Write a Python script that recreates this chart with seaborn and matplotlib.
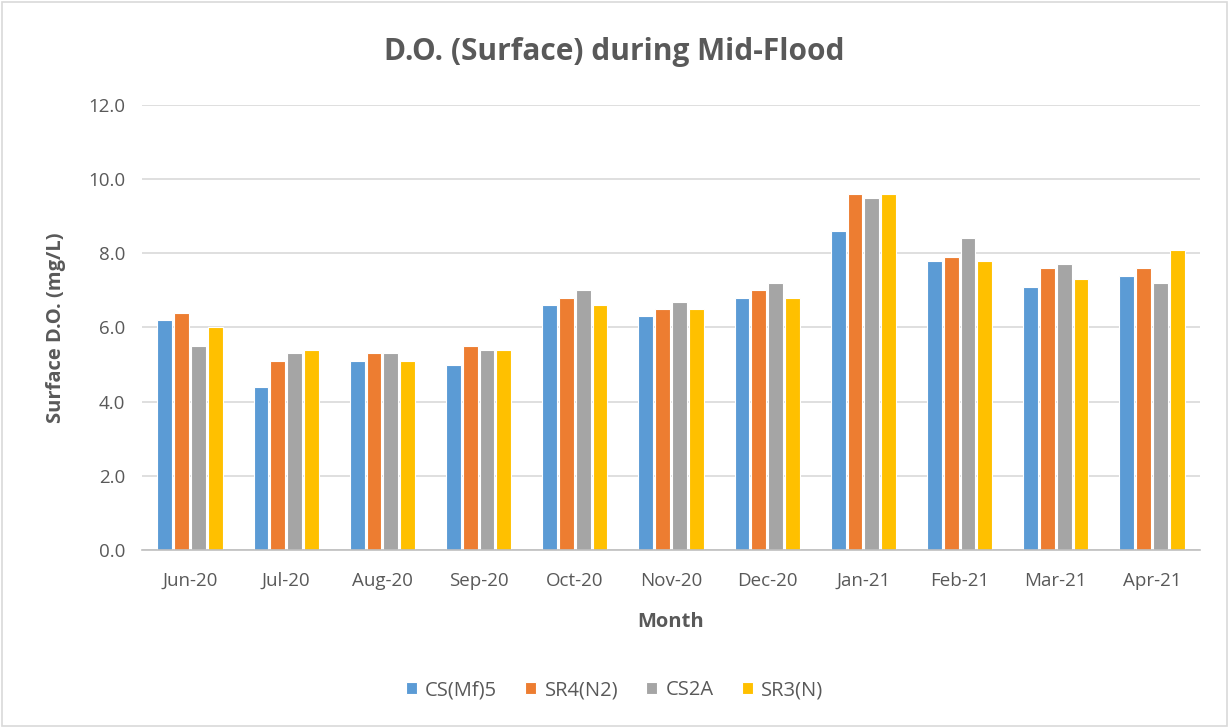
import matplotlib
matplotlib.use("Agg")
import matplotlib.pyplot as plt
import seaborn as sns
import pandas as pd
from matplotlib.patches import Rectangle

months = ["Jun-20", "Jul-20", "Aug-20", "Sep-20", "Oct-20", "Nov-20",
          "Dec-20", "Jan-21", "Feb-21", "Mar-21", "Apr-21"]
cs_mf5 = [6.2, 4.4, 5.1, 5.0, 6.6, 6.3, 6.8, 8.6, 7.8, 7.1, 7.4]
sr4_n2 = [6.4, 5.1, 5.3, 5.5, 6.8, 6.5, 7.0, 9.6, 7.9, 7.6, 7.6]
cs2a = [5.5, 5.3, 5.3, 5.4, 7.0, 6.7, 7.2, 9.5, 8.4, 7.7, 7.2]
sr3_n = [6.0, 5.4, 5.1, 5.4, 6.6, 6.5, 6.8, 9.6, 7.8, 7.3, 8.1]
series = ["CS(Mf)5", "SR4(N2)", "CS2A", "SR3(N)"]
colors = ["#5B9BD5", "#ED7D31", "#A5A5A5", "#FFC000"]

rows = []
for name, vals in zip(series, [cs_mf5, sr4_n2, cs2a, sr3_n]):
    for m, v in zip(months, vals):
        rows.append({"Month": m, "Station": name, "DO": v})
df = pd.DataFrame(rows)

sns.set_theme(style="white")
plt.rcParams["font.family"] = ["Open Sans", "DejaVu Sans"]

fig = plt.figure(figsize=(12.29, 7.28), dpi=100)
ax = fig.add_axes([0.1155, 0.2445, 0.861, 0.6113])

sns.barplot(data=df, x="Month", y="DO", hue="Station", order=months,
            hue_order=series, palette=colors, saturation=1, width=0.7, gap=0.12,
            edgecolor="white", linewidth=0.8, ax=ax, legend=True)

ax.set_ylim(0, 12)
ax.set_yticks([0, 2, 4, 6, 8, 10, 12])
ax.set_yticklabels([f"{v:.1f}" for v in [0, 2, 4, 6, 8, 10, 12]])
ax.yaxis.grid(True, color="#D9D9D9", linewidth=1.2)
ax.set_axisbelow(True)
for s in ["top", "right", "left"]:
    ax.spines[s].set_visible(False)
ax.spines["bottom"].set_color("#BFBFBF")
ax.spines["bottom"].set_linewidth(1.2)
ax.tick_params(axis="both", length=0, labelsize=13.5, colors="#595959")
ax.tick_params(axis="x", pad=16)
ax.tick_params(axis="y", pad=12)
ax.set_xlim(-0.5, len(months) - 0.5)

ax.set_xlabel("Month", fontsize=14.5, fontweight="bold", color="#595959", labelpad=16)
ax.set_ylabel("Surface D.O. (mg/L)", fontsize=14.5, fontweight="bold", color="#595959", labelpad=16)
fig.text(0.5, 0.928, "D.O. (Surface) during Mid-Flood", ha="center", va="center",
         fontsize=21.5, fontweight="bold", color="#595959")

handles, labels = ax.get_legend_handles_labels()
ax.get_legend().remove()
fig.legend(handles, labels, loc="center", bbox_to_anchor=(0.5, 0.052), ncol=4,
           frameon=False, fontsize=14.5, handlelength=0.55, handleheight=0.55,
           columnspacing=1.4, handletextpad=0.4, labelcolor="#595959")

fig.patches.append(Rectangle((0.002, 0.003), 0.996, 0.994, transform=fig.transFigure,
                             fill=False, edgecolor="#D9D9D9", linewidth=1.2))

fig.savefig("out.png", dpi=100)
